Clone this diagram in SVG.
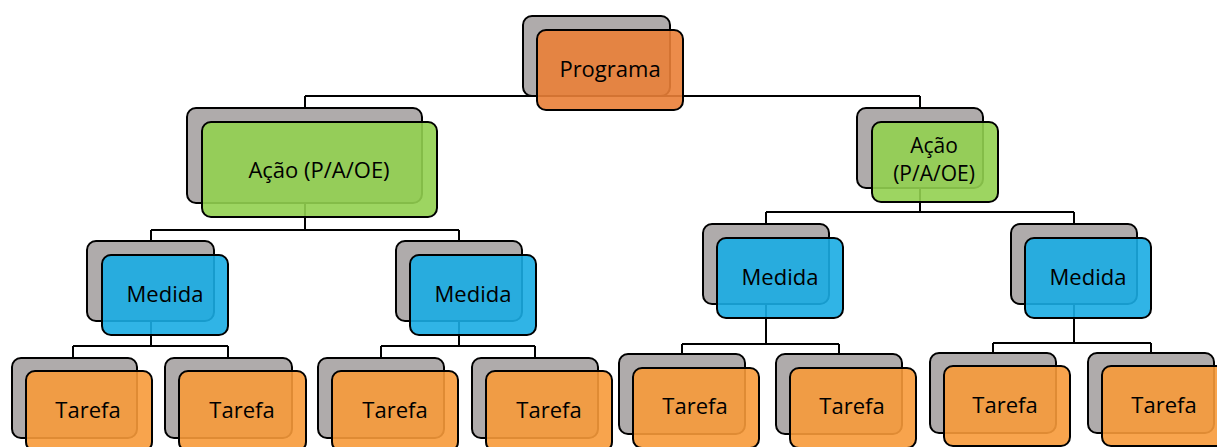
<svg xmlns="http://www.w3.org/2000/svg" width="1217" height="447" viewBox="0 0 1217 447">
<style>
.bg{fill:#afabab;stroke:#000;stroke-width:2}
.fr{stroke:#000;stroke-width:2;fill-opacity:0.9}
.prog{fill:#ea7f37}
.acao{fill:#92d050}
.med{fill:#1aace3}
.tar{fill:#f79a3a}
.conn{fill:none;stroke:#000;stroke-width:2}
text{font-family:"Open Sans","Noto Sans",sans-serif;font-size:22px;fill:#000;text-anchor:middle}
.sm{font-size:21px}
</style>
<rect width="1217" height="447" fill="#fff"/>
<g id="connectors" class="conn">
<path d="M305,96 H920"/>
<path d="M305,96 V230 M151,230 H459 M151,230 V346 M459,230 V346"/>
<path d="M73,346 H228 M73,346 V360 M228,346 V360"/>
<path d="M381,346 H535 M381,346 V360 M535,346 V360"/>
<path d="M920,96 V212 M766,212 H1074 M766,212 V344 M1074,212 V343"/>
<path d="M682,344 H839 M682,344 V356 M839,344 V356"/>
<path d="M993,343 H1151 M993,343 V355 M1151,343 V355"/>
</g>
<g id="programa">
<rect class="bg" x="523" y="16" width="147" height="80" rx="9"/>
<rect class="fr prog" x="537" y="30" width="146" height="80" rx="9"/>
<text x="610" y="77">Programa</text>
</g>
<g id="acao-left">
<rect class="bg" x="187" y="108" width="235" height="95" rx="9"/>
<rect class="fr acao" x="202" y="122" width="235" height="95" rx="9"/>
<text x="319" y="178">Ação (P/A/OE)</text>
</g>
<g id="acao-right">
<rect class="bg" x="857" y="108" width="126" height="80" rx="9"/>
<rect class="fr acao" x="872" y="122" width="126" height="80" rx="9"/>
<text class="sm" x="934" y="153">Ação</text>
<text class="sm" x="934" y="181">(P/A/OE)</text>
</g>
<g id="medida-1">
<rect class="bg" x="87" y="241" width="127" height="80" rx="9"/>
<rect class="fr med" x="102" y="255" width="126" height="80" rx="9"/>
<text x="165" y="302">Medida</text>
</g>
<g id="medida-2">
<rect class="bg" x="396" y="241" width="126" height="80" rx="9"/>
<rect class="fr med" x="410" y="255" width="126" height="80" rx="9"/>
<text x="473" y="302">Medida</text>
</g>
<g id="medida-3">
<rect class="bg" x="703" y="224" width="126" height="80" rx="9"/>
<rect class="fr med" x="717" y="238" width="126" height="80" rx="9"/>
<text x="780" y="285">Medida</text>
</g>
<g id="medida-4">
<rect class="bg" x="1011" y="224" width="126" height="80" rx="9"/>
<rect class="fr med" x="1025" y="238" width="126" height="80" rx="9"/>
<text x="1088" y="285">Medida</text>
</g>
<g id="tarefa-1">
<rect class="bg" x="12" y="358" width="125" height="80" rx="9"/>
<rect class="fr tar" x="26" y="371" width="126" height="80" rx="9"/>
<text x="88" y="418">Tarefa</text>
</g>
<g id="tarefa-2">
<rect class="bg" x="165" y="358" width="127" height="80" rx="9"/>
<rect class="fr tar" x="179" y="371" width="127" height="80" rx="9"/>
<text x="242" y="418">Tarefa</text>
</g>
<g id="tarefa-3">
<rect class="bg" x="318" y="358" width="126" height="80" rx="9"/>
<rect class="fr tar" x="332" y="371" width="126" height="80" rx="9"/>
<text x="395" y="418">Tarefa</text>
</g>
<g id="tarefa-4">
<rect class="bg" x="472" y="358" width="126" height="80" rx="9"/>
<rect class="fr tar" x="486" y="371" width="126" height="80" rx="9"/>
<text x="549" y="418">Tarefa</text>
</g>
<g id="tarefa-5">
<rect class="bg" x="619" y="354" width="126" height="80" rx="9"/>
<rect class="fr tar" x="633" y="368" width="126" height="80" rx="9"/>
<text x="695" y="414">Tarefa</text>
</g>
<g id="tarefa-6">
<rect class="bg" x="776" y="354" width="126" height="80" rx="9"/>
<rect class="fr tar" x="790" y="368" width="126" height="80" rx="9"/>
<text x="852" y="414">Tarefa</text>
</g>
<g id="tarefa-7">
<rect class="bg" x="930" y="353" width="126" height="80" rx="9"/>
<rect class="fr tar" x="944" y="366" width="126" height="80" rx="9"/>
<text x="1005" y="413">Tarefa</text>
</g>
<g id="tarefa-8">
<rect class="bg" x="1088" y="353" width="126" height="80" rx="9"/>
<rect class="fr tar" x="1102" y="366" width="126" height="80" rx="9"/>
<text x="1164" y="413">Tarefa</text>
</g>
</svg>
